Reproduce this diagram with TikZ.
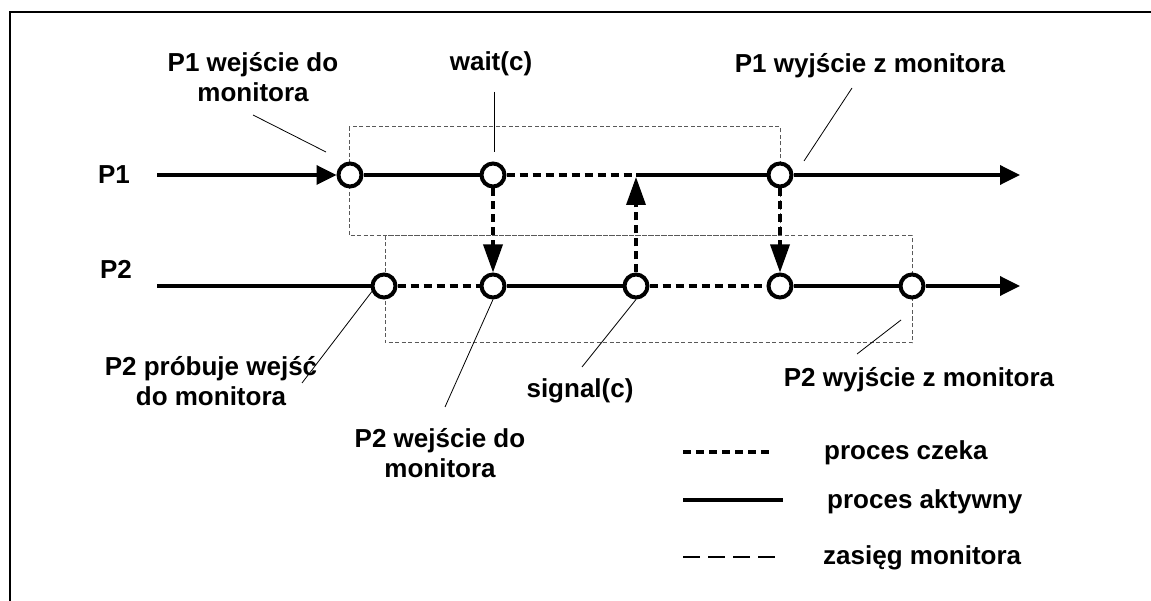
\documentclass[tikz,border=0pt]{standalone}
\usepackage{fontspec}
\setmainfont{Liberation Sans}
\usetikzlibrary{arrows.meta}
\begin{document}
\begin{tikzpicture}[x=1pt,y=-1pt,
  every node/.style={font=\fontsize{26}{30}\selectfont\bfseries},
  lbl/.style={align=center, anchor=base, inner sep=0pt},
  legendtext/.style={anchor=base west, inner sep=0pt},
  evt/.style={circle, draw, line width=4pt, fill=white, minimum size=23pt, inner sep=0pt},
  active/.style={line width=3.5pt},
  waiting/.style={line width=3.5pt, dash pattern=on 8pt off 5pt},
  monbox/.style={draw=black!65, line width=1pt, dash pattern=on 4pt off 2.5pt},
  leader/.style={line width=0.8pt},
  endarrow/.style={-{Triangle[length=20pt,width=19pt]}},
  crossarrow/.style={-{Triangle[length=28pt,width=19pt]}},
]
\useasboundingbox (0,0) rectangle (1151,601);

% frame (top and left edges)
\draw[line width=2pt] (1151,12) -- (10,12) -- (10,601);

% monitor ranges
\draw[monbox] (349,127) rectangle (780,236);
\draw[monbox] (385,236) rectangle (912,343);

% events on the time lines
\node[evt] (a1) at (350,175) {};
\node[evt] (a2) at (493,175) {};
\node[evt] (a3) at (780,175) {};
\node[evt] (b1) at (384,286) {};
\node[evt] (b2) at (493,286) {};
\node[evt] (b3) at (636,286) {};
\node[evt] (b4) at (780,286) {};
\node[evt] (b5) at (912,286) {};

% process names
\node[lbl] (n1) at (114,184) {P1};
\node[lbl] (n2) at (116,279) {P2};

% time line of P1
\coordinate (p1start) at (157,175);
\coordinate (p1sig) at (636,175);
\coordinate (p1end) at (1020,175);
\draw[active, endarrow] (p1start) -- (a1);
\draw[active] (a1) -- (a2);
\draw[waiting] (a2) -- (p1sig);
\draw[active] (p1sig) -- (a3);
\draw[active, endarrow] (a3) -- (p1end);

% time line of P2
\coordinate (p2start) at (157,286);
\coordinate (p2end) at (1020,286);
\draw[active] (p2start) -- (b1);
\draw[waiting] (b1) -- (b2);
\draw[active] (b2) -- (b3);
\draw[waiting] (b3) -- (b4);
\draw[active] (b4) -- (b5);
\draw[active, endarrow] (b5) -- (p2end);

% hand-overs between the processes
\coordinate (sigtip) at (636,177);
\draw[waiting, crossarrow] (a2) -- (b2);
\draw[waiting, crossarrow] (b3) -- (sigtip);
\draw[waiting, crossarrow] (a3) -- (b4);

% annotations (multi-line nodes sit on the baseline of their last line)
\node[lbl] (t1) at (253,102) {P1 wejście do\\monitora};
\node[lbl] (t2) at (491,71) {wait(c)};
\node[lbl] (t3) at (870,73) {P1 wyjście z monitora};
\node[lbl] (t4) at (211,406) {P2 próbuje wejść\\do monitora};
\node[lbl] (t5) at (440,477) {P2 wejście do\\monitora};
\node[lbl] (t6) at (580,398) {signal(c)};
\node[lbl] (t7) at (919,387) {P2 wyjście z monitora};

% leader lines
\coordinate (l1) at (253,115); \coordinate (l1e) at (326,152);
\coordinate (l2) at (494,92);  \coordinate (l2e) at (494,152);
\coordinate (l3) at (852,88);  \coordinate (l3e) at (804,161);
\coordinate (l4) at (302,383);
\coordinate (l5) at (445,407);
\coordinate (l6) at (582,367);
\coordinate (l7) at (857,354); \coordinate (l7e) at (901,320);
\draw[leader] (l1) -- (l1e);
\draw[leader] (l2) -- (l2e);
\draw[leader] (l3) -- (l3e);
\draw[leader] (b1.205) -- (l4);
\draw[leader] (b2.south) -- (l5);
\draw[leader] (b3.south) -- (l6);
\draw[leader] (l7) -- (l7e);

% legend
\coordinate (g1a) at (683,452); \coordinate (g1b) at (770,452);
\coordinate (g2a) at (683,500); \coordinate (g2b) at (783,500);
\coordinate (g3a) at (683,557); \coordinate (g3b) at (776,557);
\draw[waiting] (g1a) -- (g1b);
\draw[line width=4pt] (g2a) -- (g2b);
\draw[line width=2pt, dash pattern=on 17pt off 8pt] (g3a) -- (g3b);
\node[legendtext] (k1) at (824,459) {proces czeka};
\node[legendtext] (k2) at (827,508) {proces aktywny};
\node[legendtext] (k3) at (823,564) {zasięg monitora};
\end{tikzpicture}
\end{document}
